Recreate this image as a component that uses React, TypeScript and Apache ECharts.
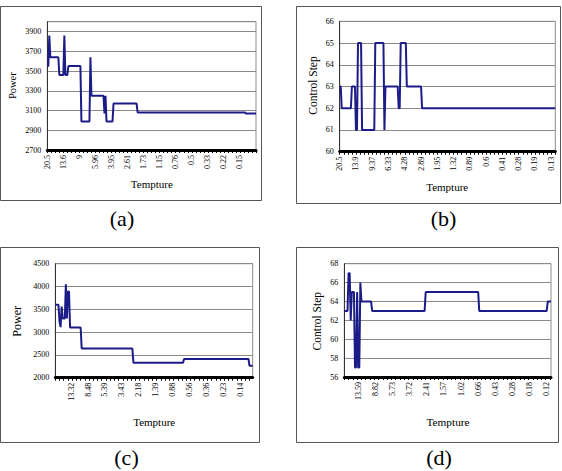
import React, { useEffect, useRef } from 'react';
import * as echarts from 'echarts';

// ---- tick labels (temperature) ----
const tempLabelsA = ['20.5', '13.6', '9', '5.96', '3.95', '2.61', '1.73', '1.15', '0.76', '0.5', '0.33', '0.22', '0.15'];
const tempLabelsB = ['20.5', '13.9', '9.37', '6.33', '4.28', '2.89', '1.95', '1.32', '0.89', '0.6', '0.41', '0.28', '0.19', '0.13'];
const tempLabelsC = ['13.32', '8.48', '5.39', '3.43', '2.18', '1.39', '0.88', '0.56', '0.36', '0.23', '0.14'];
const tempLabelsD = ['13.59', '8.82', '5.73', '3.72', '2.41', '1.57', '1.02', '0.66', '0.43', '0.28', '0.18', '0.12'];

// ---- series values, as levels held for a number of iterations ----
const powerALevels = [3550, 3860, 3640, 3460, 3860, 3460, 3550, 2990, 3640, 3250, 3070, 3250, 2990, 3170, 3080, 3070];
const powerARuns = [2, 1, 9, 5, 1, 3, 13, 9, 1, 13, 1, 1, 7, 24, 108, 11];

const stepBLevels = [63, 62, 63, 61, 65, 61, 65, 61, 63, 62, 65, 63, 62];
const stepBRuns = [2, 10, 4, 2, 4, 13, 9, 1, 13, 2, 6, 15, 132];

const powerCLevels = [3600, 3230, 3110, 3560, 3300, 4050, 3300, 3890, 3100, 2640, 2330, 2410, 2260];
const powerCRuns = [4, 1, 1, 1, 3, 1, 1, 2, 11, 49, 48, 62, 4];

const stepDLevels = [63, 67, 62, 65, 57, 65, 57, 66, 64, 63, 65, 63, 64];
const stepDRuns = [4, 2, 1, 3, 2, 1, 2, 1, 10, 50, 50, 64, 4];

const expand = (levels: number[], runs: number[]) => {
  const out: number[] = [];
  levels.forEach((v, i) => {
    for (let k = 0; k < runs[i]; k++) out.push(v);
  });
  return out;
};

const FONT = 'Liberation Serif, Times New Roman, Times, serif';
const LINE = '#1c1c88';

export default function App() {
  const ref = useRef<HTMLDivElement>(null);
  useEffect(() => {
    if (!ref.current) return;
    const chart = echarts.init(ref.current, undefined, { renderer: 'svg' });

    const panels = [
      { grid: { left: 47.3, top: 21.7, width: 208.7, height: 128.3 }, labels: tempLabelsA, first: 0,
        values: expand(powerALevels, powerARuns), y: { min: 2700, max: 4000, interval: 200 } },
      { grid: { left: 339.7, top: 21.3, width: 215.6, height: 130.4 }, labels: tempLabelsB, first: 0,
        values: expand(stepBLevels, stepBRuns), y: { min: 60, max: 66, interval: 1 } },
      { grid: { left: 55.3, top: 263.7, width: 197.4, height: 114 }, labels: tempLabelsC, first: 15,
        values: expand(powerCLevels, powerCRuns), y: { min: 2000, max: 4500, interval: 500 } },
      { grid: { left: 344.3, top: 263.7, width: 206.7, height: 113.3 }, labels: tempLabelsD, first: 13,
        values: expand(stepDLevels, stepDRuns), y: { min: 56, max: 68, interval: 2 } },
    ];

    const grids = panels.map((p) => ({
      ...p.grid,
      show: true,
      borderColor: '#8c8c8c',
      borderWidth: 1,
      backgroundColor: 'transparent',
      containLabel: false,
    }));

    const xAxes = panels.map((p, i) => {
      const cats = p.values.map((_, k) => String(k));
      const isLab = (idx: number) =>
        idx >= p.first && (idx - p.first) % 16 === 0 && (idx - p.first) / 16 < p.labels.length;
      return {
        type: 'category',
        gridIndex: i,
        data: cats,
        boundaryGap: false,
        axisLine: { show: true, lineStyle: { color: '#000', width: 3 } },
        axisTick: { show: true, interval: (idx: number) => idx % 4 === 0, length: 3, lineStyle: { color: '#000', width: 1 } },
        axisLabel: {
          interval: (idx: number) => isLab(idx),
          formatter: (v: string) => {
            const idx = Number(v);
            return isLab(idx) ? p.labels[(idx - p.first) / 16] : '';
          },
          rotate: 90,
          fontSize: 8,
          fontFamily: FONT,
          color: '#000',
          margin: 5,
        },
        splitLine: { show: false },
      };
    });

    const yAxes = panels.map((p, i) => ({
      type: 'value',
      gridIndex: i,
      min: p.y.min,
      max: p.y.max,
      interval: p.y.interval,
      axisLine: { show: true, lineStyle: { color: '#333', width: 1 } },
      axisTick: { show: false },
      splitLine: { show: true, lineStyle: { color: '#8a8a8a', width: 1 } },
      axisLabel: {
        fontSize: 8,
        fontFamily: FONT,
        color: '#000',
        margin: 6,
        formatter: (v: number) => ((v - p.y.min) % p.y.interval === 0 ? String(v) : ''),
      },
    }));

    const series = panels.map((p, i) => ({
      type: 'line',
      xAxisIndex: i,
      yAxisIndex: i,
      data: p.values,
      showSymbol: false,
      symbol: 'none',
      lineStyle: { color: LINE, width: 2 },
      silent: true,
    }));

    const txt = (text: string, x: number, y: number, size: number, rot = 0) => ({
      type: 'text',
      x,
      y,
      rotation: rot,
      silent: true,
      style: {
        text,
        fontFamily: FONT,
        fontSize: size,
        fill: '#000',
        textAlign: 'center',
        textVerticalAlign: 'middle',
        align: 'center',
        verticalAlign: 'middle',
      },
    });
    const frame = (x0: number, y0: number, x1: number, y1: number) => ({
      type: 'rect',
      silent: true,
      shape: { x: x0, y: y0, width: x1 - x0, height: y1 - y0 },
      style: { fill: 'none', stroke: '#555', lineWidth: 1 },
    });

    const graphic = [
      frame(0.5, 6.5, 261.5, 200.5),
      frame(296.5, 6.5, 560.5, 203.5),
      frame(0.5, 247.5, 259.5, 442.5),
      frame(296.5, 247.5, 558.5, 442.5),
      txt('Power', 12.7, 85.7, 10.5, Math.PI / 2),
      txt('Tempture', 151.8, 183.5, 11),
      txt('Control Step', 312.7, 85.5, 11.5, Math.PI / 2),
      txt('Tempture', 447.2, 187, 11),
      txt('Power', 16.7, 321.3, 12, Math.PI / 2),
      txt('Tempture', 154.2, 422, 11),
      txt('Control Step', 317, 321.2, 11.5, Math.PI / 2),
      txt('Tempture', 448, 422, 11.3),
      txt('(a)', 122, 218, 22),
      txt('(b)', 443.5, 218, 22),
      txt('(c)', 126.5, 457, 22),
      txt('(d)', 439, 457, 22),
    ];

    chart.setOption({
      animation: false,
      backgroundColor: '#fff',
      grid: grids,
      xAxis: xAxes,
      yAxis: yAxes,
      series,
      graphic,
    } as any);

    return () => chart.dispose();
  }, []);

  return (
    <div
      ref={ref}
      style={{ position: 'absolute', left: 0, top: 0, width: 562, height: 471, background: '#fff' }}
    />
  );
}
